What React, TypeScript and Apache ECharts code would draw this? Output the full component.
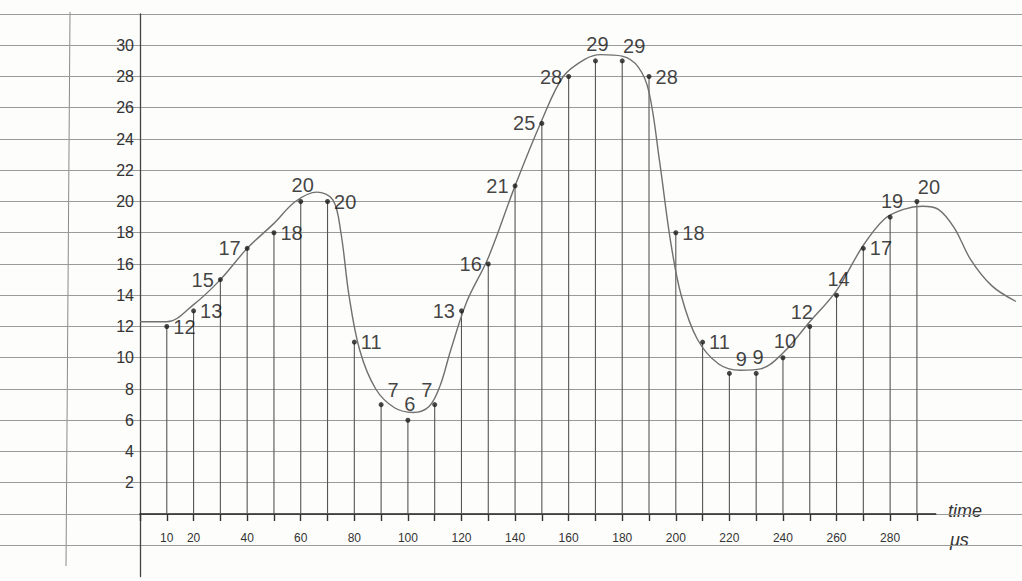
import React, { useEffect, useRef } from 'react';
import * as echarts from 'echarts';

// time (µs) of every plotted reading
const times = [10, 20, 30, 40, 50, 60, 70, 80, 90, 100, 110, 120, 130, 140, 150, 160, 170, 180, 190, 200, 210, 220, 230, 240, 250, 260, 270, 280, 290];
// reading written next to each dot
const values = [12, 13, 15, 17, 18, 20, 20, 11, 7, 6, 7, 13, 16, 21, 25, 28, 29, 29, 28, 18, 11, 9, 9, 10, 12, 14, 17, 19, 20];
// where each written number sits relative to its dot
const labelSide = ['right', 'right', 'left', 'left', 'right', 'top', 'right', 'right', 'topRight', 'top', 'topLeft', 'left', 'left', 'left', 'left', 'left', 'top', 'topRight', 'right', 'right', 'right', 'topRight', 'top', 'top', 'topLeft', 'top', 'right', 'top', 'topRight'];

// the freehand pencil curve
const curveX = [0, 10, 20, 30, 40, 50, 58, 66, 72, 75, 78, 82, 88, 95, 102, 108, 112, 116, 122, 130, 140, 150, 158, 166, 172, 180, 186, 190, 194, 198, 202, 208, 216, 224, 232, 240, 250, 260, 270, 278, 285, 292, 298, 304, 310, 318, 327];
const curveY = [12.3, 12.3, 13.4, 15, 17, 18.6, 20, 20.6, 20.1, 18, 14, 10.5, 8, 6.8, 6.5, 6.9, 8.2, 10.5, 13.6, 16.4, 21, 25.2, 28, 29.1, 29.4, 29.3, 28.6, 27, 22.5, 17.5, 14, 11.2, 9.6, 9.2, 9.3, 10.3, 12.3, 14.3, 17.2, 18.9, 19.5, 19.7, 19.5, 18.3, 16.3, 14.6, 13.6];

// which ticks got a number under them
const xTickLabels = [10, 20, 40, 60, 80, 100, 120, 140, 160, 180, 200, 220, 240, 260, 280];

const sidePos: Record<string, { position: string; offset: number[] }> = {
  right: { position: 'right', offset: [0, 0] },
  left: { position: 'left', offset: [0, 0] },
  top: { position: 'top', offset: [2, 0] },
  topRight: { position: 'top', offset: [12, 2] },
  topLeft: { position: 'top', offset: [-8, 2] },
};

const PX_PER_US = 2.679;

const App: React.FC = () => {
  const chartRef = useRef<HTMLDivElement>(null);

  useEffect(() => {
    document.body.style.margin = '0';
    if (!chartRef.current) return;
    const chart = echarts.init(chartRef.current, null, { renderer: 'svg' });

    const pencil = '#333';
    const font = 'Liberation Sans';
    const left = 140;

    const option = {
      animation: false,
      backgroundColor: '#fdfdfc',
      textStyle: { fontFamily: font },
      grid: [
        // ruled paper
        { left: 0, right: 0, top: 14, bottom: 36, outerBoundsMode: 'none' },
        // the plot itself
        { left, right: 1022 - left - 297 * PX_PER_US, top: 14, bottom: 4.5, outerBoundsMode: 'none' },
        // same scale, wider, so the freehand curve can run past the axis end
        { left, right: 1022 - left - 330 * PX_PER_US, top: 14, bottom: 4.5, outerBoundsMode: 'none' },
      ],
      graphic: [
        {
          type: 'line',
          shape: { x1: 70, y1: 12, x2: 66, y2: 566 },
          style: { stroke: '#8a8a8a', lineWidth: 1 },
          silent: true,
        },
        // axis name, written by hand under and after the arrow end
        {
          type: 'text',
          left: 948,
          top: 502,
          style: { text: 'time', fontSize: 18, fontStyle: 'italic', fill: pencil, fontFamily: font },
          silent: true,
        },
        {
          type: 'text',
          left: 950,
          top: 531,
          style: { text: 'μs', fontSize: 18, fontStyle: 'italic', fill: pencil, fontFamily: font },
          silent: true,
        },
      ],
      xAxis: [
        { gridIndex: 0, type: 'value', min: 0, max: 1, show: false },
        {
          gridIndex: 1,
          type: 'value',
          min: 0,
          max: 297,
          interval: 10,
          axisLine: { onZero: true, lineStyle: { color: '#222', width: 1.6 } },
          axisTick: { show: true, length: 7, lineStyle: { color: '#333', width: 1.4 } },
          axisLabel: {
            color: pencil,
            fontSize: 12,
            margin: -45,
            showMaxLabel: false,
            formatter: (v: number) => (xTickLabels.includes(v) ? String(v) : ''),
          },
          splitLine: { show: false },
        },
        { gridIndex: 2, type: 'value', min: 0, max: 330, show: false },
      ],
      yAxis: [
        {
          gridIndex: 0,
          type: 'value',
          min: -2,
          max: 32,
          interval: 2,
          axisLine: { show: false },
          axisTick: { show: false },
          axisLabel: { show: false },
          splitLine: { show: true, lineStyle: { color: '#9a9a9a', width: 1 } },
        },
        {
          gridIndex: 1,
          type: 'value',
          min: -4,
          max: 32,
          interval: 2,
          axisLine: { show: true, lineStyle: { color: '#444', width: 1.3 } },
          axisTick: { show: false },
          axisLabel: {
            color: pencil,
            fontSize: 16,
            margin: 6,
            formatter: (v: number) => (v > 0 && v <= 30 ? String(v) : ''),
          },
          splitLine: { show: false },
        },
        { gridIndex: 2, type: 'value', min: -4, max: 32, show: false },
      ],
      series: [
        {
          name: 'drop lines',
          type: 'bar',
          xAxisIndex: 1,
          yAxisIndex: 1,
          barWidth: 1.1,
          itemStyle: { color: '#555' },
          data: times.map((t, i) => [t, values[i]]),
          silent: true,
        },
        {
          name: 'curve',
          type: 'line',
          xAxisIndex: 2,
          yAxisIndex: 2,
          smooth: 0.35,
          showSymbol: false,
          lineStyle: { color: '#707070', width: 1.4 },
          data: curveX.map((x, i) => [x, curveY[i]]),
          silent: true,
        },
        {
          name: 'readings',
          type: 'scatter',
          xAxisIndex: 1,
          yAxisIndex: 1,
          symbolSize: 5,
          itemStyle: { color: '#1a1a1a' },
          z: 5,
          data: times.map((t, i) => {
            const s = sidePos[labelSide[i]];
            return {
              value: [t, values[i]],
              label: {
                show: true,
                formatter: String(values[i]),
                position: s.position,
                offset: s.offset,
                distance: 4,
                color: '#111',
                fontSize: 20,
                fontFamily: font,
              },
            };
          }),
        },
      ],
    };

    chart.setOption(option);
    return () => {
      chart.dispose();
    };
  }, []);

  return <div ref={chartRef} style={{ width: '1022px', height: '581px' }} />;
};

export default App;
